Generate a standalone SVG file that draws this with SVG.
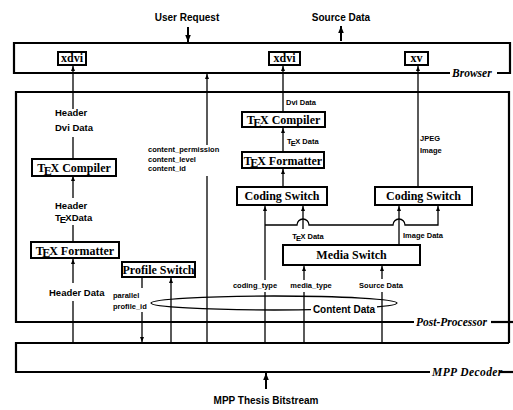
<svg xmlns="http://www.w3.org/2000/svg" width="513" height="410" viewBox="0 0 513 410">
<style>
.box{fill:#fff;stroke:#000;stroke-width:2}
.frame{fill:none;stroke:#000;stroke-width:2.2}
.ln{fill:none;stroke:#000;stroke-width:1.3}
.arr{fill:none;stroke:#000;stroke-width:1.3;marker-end:url(#ah)}
.nt{font-family:"Liberation Serif","Times New Roman",serif;font-weight:bold;font-size:12px;text-anchor:middle}
.lbl{font-family:"Liberation Sans",Arial,sans-serif;font-weight:bold;font-size:7.5px}
.mid{font-family:"Liberation Sans",Arial,sans-serif;font-weight:bold;font-size:9.5px}
.big{font-family:"Liberation Sans",Arial,sans-serif;font-weight:bold;font-size:10px;text-anchor:middle}
.layer{font-family:"Liberation Serif","Times New Roman",serif;font-weight:bold;font-style:italic;font-size:11.5px}
.c{text-anchor:middle}
</style>
<defs>
<marker id="ah" viewBox="0 0 10 10" refX="10" refY="5" markerUnits="userSpaceOnUse" markerWidth="5" markerHeight="5" orient="auto"><path d="M0,1 L10,5 L0,9 z" fill="#000"/></marker>
<marker id="ahb" viewBox="0 0 10 10" refX="10" refY="5" markerUnits="userSpaceOnUse" markerWidth="7" markerHeight="7" orient="auto"><path d="M0,1 L10,5 L0,9 z" fill="#000"/></marker>
</defs>
<rect width="513" height="410" fill="#fff"/>

<g id="layer-browser">
<path class="frame" d="M450,73 H14 V43 H510 V73 H497"/>
<text class="layer" x="452" y="77">Browser</text>
</g>
<g id="layer-postprocessor">
<path class="frame" d="M414,322 H16 V92 H509 V343"/>
<path class="frame" d="M491,322 H513"/>
<text class="layer" x="416" y="326">Post-Processor</text>
</g>
<g id="layer-mppdecoder">
<path class="frame" d="M509,343 H16 V372 H430"/>
<path class="frame" d="M499,372 H513"/>
<text class="layer" x="432" y="376" letter-spacing="0.4">MPP Decoder</text>
</g>

<g id="connectors">
<path d="M188,27 V42" stroke="#000" stroke-width="2" marker-end="url(#ahb)"/>
<path d="M341,41 V26" stroke="#000" stroke-width="2" marker-end="url(#ahb)"/>
<path d="M266,389 V373" stroke="#000" stroke-width="2" marker-end="url(#ahb)"/>
<!-- left column -->
<path class="arr" d="M73,109 V66"/>
<path class="ln" d="M73,159 V137"/>
<path class="arr" d="M73,198 V176"/>
<path class="ln" d="M73,242 V225"/>
<path class="arr" d="M73,283 V259"/>
<path class="ln" d="M73,343 V301"/>
<!-- profile switch -->
<path class="ln" d="M142,277 V288"/>
<path class="arr" d="M142,312 V342"/>
<path class="arr" d="M171,343 V278"/>
<!-- content permission -->
<path class="ln" d="M207,343 V176"/>
<path class="arr" d="M207,145 V74"/>
<!-- middle column -->
<path class="arr" d="M283,112 V66"/>
<path class="arr" d="M283,152 V128"/>
<path class="arr" d="M283,187 V169"/>
<path class="arr" d="M418,187 V66"/>
<!-- coding type -->
<path class="ln" d="M265,343 V292"/>
<path class="arr" d="M265,280 V206"/>
<path class="arr" d="M265,225 H297 A6,6 0 0 1 309,225 H393 A6,6 0 0 1 405,225 H438 V206"/>
<!-- media switch outputs -->
<path class="arr" d="M303,229 V206"/>
<path class="arr" d="M399,245 V206"/>
<!-- media switch inputs -->
<path class="ln" d="M304,343 V292"/>
<path class="arr" d="M304,280 V266"/>
<path class="ln" d="M382,343 V292"/>
<path class="arr" d="M382,279 V266"/>
<!-- content data bundle -->
<ellipse class="ln" cx="274" cy="303" rx="123" ry="7"/>
</g>

<g id="n-xdvi-left"><rect class="box" x="58" y="52" width="28" height="13"/><text class="nt" x="72" y="62">xdvi</text></g>
<g id="n-xdvi-mid"><rect class="box" x="269" y="52" width="31" height="13"/><text class="nt" x="284.5" y="62">xdvi</text></g>
<g id="n-xv"><rect class="box" x="405" y="52" width="23" height="13"/><text class="nt" x="416.5" y="62">xv</text></g>

<g id="n-tex-compiler-left"><rect class="box" x="32" y="159" width="84" height="17"/><text class="nt" x="74" y="172">T<tspan dx="-1.5" dy="2.5">E</tspan><tspan dx="-1.2" dy="-2.5">X</tspan> Compiler</text></g>
<g id="n-tex-formatter-left"><rect class="box" x="31" y="242" width="88" height="16"/><text class="nt" x="75" y="254.5">T<tspan dx="-1.5" dy="2.5">E</tspan><tspan dx="-1.2" dy="-2.5">X</tspan> Formatter</text></g>
<g id="n-profile-switch"><rect class="box" x="122" y="262" width="73" height="15"/><text class="nt" x="158.5" y="273.5" font-size="11">Profile Switch</text></g>

<g id="n-tex-compiler-mid"><rect class="box" x="242" y="112" width="83" height="15"/><text class="nt" x="283.5" y="124">T<tspan dx="-1.5" dy="2.5">E</tspan><tspan dx="-1.2" dy="-2.5">X</tspan> Compiler</text></g>
<g id="n-tex-formatter-mid"><rect class="box" x="242" y="152" width="82" height="16"/><text class="nt" x="283" y="164.5">T<tspan dx="-1.5" dy="2.5">E</tspan><tspan dx="-1.2" dy="-2.5">X</tspan> Formatter</text></g>
<g id="n-coding-switch-left"><rect class="box" x="237" y="187" width="90" height="18"/><text class="nt" x="282" y="200">Coding Switch</text></g>
<g id="n-coding-switch-right"><rect class="box" x="375" y="187" width="97" height="18"/><text class="nt" x="423.5" y="200">Coding Switch</text></g>
<g id="n-media-switch"><rect class="box" x="283" y="245" width="137" height="20"/><text class="nt" x="351.5" y="259">Media Switch</text></g>

<g id="labels">
<text class="big" x="187" y="21">User Request</text>
<text class="big" x="341" y="21">Source Data</text>
<text class="big" x="266" y="404">MPP Thesis Bitstream</text>
<text class="mid" x="55" y="116">Header</text>
<text class="mid" x="55" y="131">Dvi  Data</text>
<text class="mid" x="55" y="209">Header</text>
<text class="mid" x="55" y="221">T<tspan dx="-1" dy="2">E</tspan><tspan dx="-0.8" dy="-2">X</tspan>Data</text>
<text class="mid" x="49" y="296">Header Data</text>
<text class="lbl" x="113" y="298">parallel</text>
<text class="lbl" x="113" y="309">profile_id</text>
<text class="lbl" x="148" y="152">content_permission</text>
<text class="lbl" x="148" y="161.5">content_level</text>
<text class="lbl" x="148" y="171">content_id</text>
<text class="lbl" x="286" y="105">Dvi Data</text>
<text class="lbl" x="287" y="144">T<tspan dx="-0.8" dy="1.5">E</tspan><tspan dx="-0.6" dy="-1.5">X</tspan> Data</text>
<text class="lbl" x="420" y="141">JPEG</text>
<text class="lbl" x="420" y="153">Image</text>
<text class="lbl c" x="308" y="239">T<tspan dx="-0.8" dy="1.5">E</tspan><tspan dx="-0.6" dy="-1.5">X</tspan> Data</text>
<text class="lbl" x="403" y="238">Image Data</text>
<text class="lbl c" x="255" y="288">coding_type</text>
<text class="lbl c" x="311" y="288">media_type</text>
<text class="lbl c" x="381" y="288">Source Data</text>
<rect x="311" y="303" width="66" height="11" fill="#fff"/>
<text class="big" x="344" y="312.5">Content Data</text>
</g>
</svg>
